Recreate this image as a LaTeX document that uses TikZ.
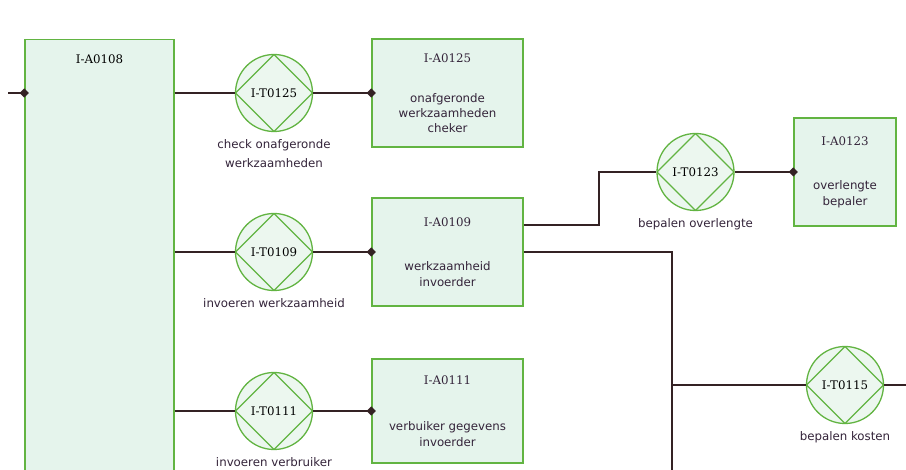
\documentclass[tikz,border=0pt]{standalone}
\usepackage{fontspec}
\setmainfont{DejaVu Sans}
\newfontfamily\idfont{DejaVu Serif}
\usetikzlibrary{shapes.geometric, positioning, calc}
\definecolor{grn}{RGB}{98,180,66}
\definecolor{boxfill}{RGB}{229,244,236}
\definecolor{circfill}{RGB}{236,247,239}
\definecolor{wire}{RGB}{52,34,36}
\definecolor{txt}{RGB}{52,36,58}
\tikzset{
  act/.style   ={rectangle, draw=grn, line width=1.3pt, fill=boxfill,
                 align=center, text=txt, inner sep=0pt,
                 font=\fontsize{11.8}{16}\selectfont},
  trans/.style ={circle, draw=grn, line width=1.3pt, fill=circfill,
                 minimum size=77pt, inner sep=0pt, text=black,
                 font=\idfont\fontsize{11.8}{14}\selectfont,
                 path picture={\draw[grn, line width=1.1pt]
                   (path picture bounding box.north) -- (path picture bounding box.east)
                   -- (path picture bounding box.south) -- (path picture bounding box.west)
                   -- cycle;}},
  tlbl/.style  ={align=center, text=txt, inner sep=1pt,
                 font=\fontsize{11.8}{19}\selectfont},
  wr/.style    ={draw=wire, line width=1.9pt},
  dmd/.style   ={diamond, fill=wire, inner sep=0pt, minimum size=10pt},
}
\newcommand{\aid}[1]{{\idfont #1}}
\begin{document}
\begin{tikzpicture}[x=1pt, y=-1pt, node distance=5mm]
\useasboundingbox (0,0) rectangle (906,470);
\fill[white] (0,0) rectangle (906,470);
\clip (0,0) rectangle (906,470);
% actors
\node[act, anchor=north, minimum width=149pt, minimum height=460pt,
      label={[anchor=north, inner sep=0pt, yshift=-16pt, font=\idfont\fontsize{11.8}{14}\selectfont]north:I-A0108}] (a108) at (99.5,39) {};
\node[act, minimum width=151pt, minimum height=108pt] (a125) at (447.5,93)
  {\aid{I-A0125}\\[24pt]onafgeronde\\[-1pt]werkzaamheden\\[-1pt]cheker};
\node[act, minimum width=151pt, minimum height=108pt] (a109) at (447.5,252)
  {\aid{I-A0109}\\[28pt]werkzaamheid\\invoerder};
\node[act, minimum width=151pt, minimum height=104pt] (a111) at (447.5,411)
  {\aid{I-A0111}\\[30pt]verbuiker gegevens\\invoerder};
\node[act, minimum width=102pt, minimum height=108pt] (a123) at (845,172)
  {\aid{I-A0123}\\[28pt]overlengte\\bepaler};
% transactions
\node[trans] (t125) at (274,93) {I-T0125};
\node[trans] (t109) at (274,252) {I-T0109};
\node[trans] (t111) at (274,411) {I-T0111};
\node[trans] (t123) at (695.5,172) {I-T0123};
\node[trans] (t115) at (845,385) {I-T0115};
\node[tlbl, below=6pt of t125] (l125) {check onafgeronde\\werkzaamheden};
\node[tlbl, below=6pt of t109] (l109) {invoeren werkzaamheid};
\node[tlbl, below=6pt of t111] (l111) {invoeren verbruiker};
\node[tlbl, below=6pt of t123] (l123) {bepalen overlengte};
\node[tlbl, below=6pt of t115] (l115) {bepalen kosten};
% wires
\coordinate (lft) at (8,93);
\coordinate (bus) at (672,480);
\coordinate (rgt) at (910,385);
\draw[wr] (lft) -- (lft -| a108.west) node[dmd] (d108) {};
\draw[wr] (t125.west -| a108.east) -- (t125.west);
\draw[wr] (t109.west -| a108.east) -- (t109.west);
\draw[wr] (t111.west -| a108.east) -- (t111.west);
\draw[wr] (t125.east) -- (a125.west) node[dmd] (d125) {};
\draw[wr] (t109.east) -- (a109.west) node[dmd] (d109) {};
\draw[wr] (t111.east) -- (a111.west) node[dmd] (d111) {};
\draw[wr] (t123.east) -- (a123.west) node[dmd] (d123) {};
\draw[wr] ([yshift=27pt]a109.east) -- ++(75,0) |- (t123.west);
\draw[wr] (a109.east) -| (bus);
\draw[wr] (t115.west -| bus) -- (t115.west);
\draw[wr] (t115.east) -- (rgt);
\end{tikzpicture}
\end{document}
